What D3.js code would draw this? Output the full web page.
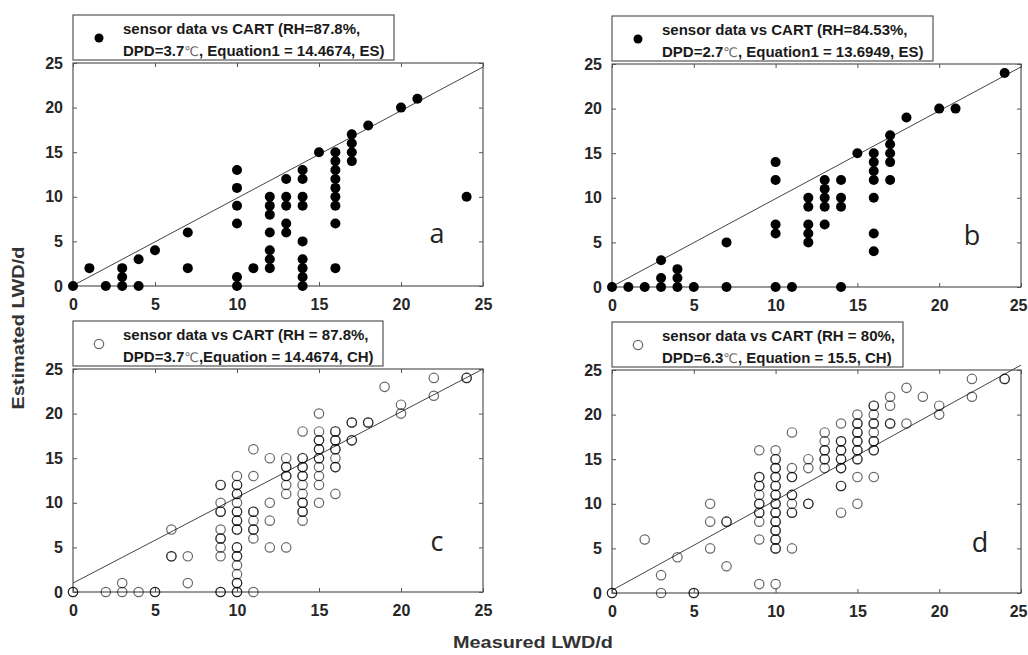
<!DOCTYPE html>
<html><head><meta charset="utf-8">
<script src="https://cdn.jsdelivr.net/npm/d3@7/dist/d3.min.js"></script>
<style>body{margin:0;background:#fff}svg{display:block}</style>
</head><body>
<svg id="chart" width="1028" height="655"></svg>
<script>
// ---------- data ----------
const xTicks = [0, 5, 10, 15, 20, 25];
const yTicks = [0, 5, 10, 15, 20, 25];

const aX = [0,1,2,3,3,3,4,4,5,7,7,10,10,10,10,10,10,11,12,12,12,12,12,12,12,13,13,13,13,13,14,14,14,14,14,14,14,14,14,15,16,16,16,16,16,16,16,16,16,17,17,17,17,18,20,21,24];
const aY = [0,2,0,0,1,2,3,0,4,6,2,13,11,9,7,1,0,2,10,9,8,6,4,3,2,12,10,9,7,6,13,12,10,9,5,3,2,1,0,15,15,14,13,12,11,10,9,7,2,17,16,15,14,18,20,21,10];

const bX = [0,1,2,3,3,3,4,4,4,5,7,7,10,10,10,10,10,11,12,12,12,12,12,13,13,13,13,13,14,14,14,14,15,16,16,16,16,16,16,16,17,17,17,17,17,18,20,21,24];
const bY = [0,0,0,0,1,3,0,1,2,0,0,5,14,12,7,6,0,0,10,9,7,6,5,12,11,10,9,7,12,10,9,0,15,15,14,13,12,10,6,4,17,16,15,14,12,19,20,20,24];

const cX = [0,2,3,3,4,5,6,6,7,7,9,9,9,9,9,9,9,9,10,10,10,10,10,10,10,10,10,10,10,10,10,11,11,11,11,11,11,11,12,12,12,12,13,13,13,13,13,13,14,14,14,14,14,14,14,14,14,15,15,15,15,15,15,15,15,15,16,16,16,16,16,16,17,17,18,19,20,20,22,22,24];
const cY = [0,0,0,1,0,0,7,4,4,1,12,10,9,7,6,5,4,0,13,12,11,10,9,8,7,5,4,3,2,1,0,16,13,9,8,7,6,0,15,10,8,5,15,14,13,12,11,5,18,15,14,13,12,11,10,9,8,20,18,17,16,15,14,13,12,10,18,17,16,15,14,11,19,17,19,23,21,20,24,22,24];
const cN = [2,1,1,1,1,2,1,2,1,1,2,1,2,1,2,1,1,2,1,2,2,1,2,2,2,2,2,1,1,2,2,1,1,2,1,2,1,1,1,1,1,1,1,2,2,1,1,1,1,2,2,2,1,1,2,2,1,1,1,2,2,2,1,1,1,1,2,2,2,1,2,1,2,2,2,1,1,1,1,1,2];

const dX = [0,2,3,3,4,5,6,6,6,7,7,9,9,9,9,9,9,9,9,9,10,10,10,10,10,10,10,10,10,10,10,10,10,11,11,11,11,11,11,11,12,12,12,13,13,13,13,13,14,14,14,14,14,14,14,15,15,15,15,15,15,15,15,16,16,16,16,16,16,16,17,17,17,18,18,19,20,20,22,22,24];
const dY = [0,6,2,0,4,0,10,8,5,8,3,16,13,12,11,10,9,8,6,1,16,15,14,13,12,11,10,9,8,7,6,5,1,18,14,13,11,10,9,5,15,14,10,18,17,16,15,14,19,17,16,15,14,12,9,20,19,18,17,16,15,13,10,21,20,19,18,17,16,13,22,21,19,23,19,22,21,20,24,22,24];
const dN = [2,1,1,1,1,2,1,1,1,2,1,1,2,2,1,2,2,1,1,1,1,2,2,2,2,2,2,2,2,2,2,2,1,1,1,2,2,1,2,1,1,1,2,1,1,2,2,1,1,2,2,2,2,2,1,1,2,2,2,2,2,1,1,2,1,2,1,2,2,1,1,1,2,1,1,1,1,1,1,1,2];

// fitted lines [slope, intercept]
const fitA = [0.98, 0.05];
const fitB = [0.985, 0.05];
const fitC = [0.96, 1.0];
const fitD = [1.01, 0.3];

const legendA = ["sensor data vs CART (RH=87.8%,", "DPD=3.7\u2103, Equation1 = 14.4674, ES)"];
const legendB = ["sensor data vs CART (RH=84.53%,", "DPD=2.7\u2103, Equation1 = 13.6949, ES)"];
const legendC = ["sensor data vs CART (RH = 87.8%,", "DPD=3.7\u2103,Equation = 14.4674, CH)"];
const legendD = ["sensor data vs CART (RH = 80%,", "DPD=6.3\u2103, Equation = 15.5, CH)"];

const xTitle = "Measured LWD/d";
const yTitle = "Estimated LWD/d";

// ---------- layout ----------
const W = 1028;
const panels = [
  {letter:"a", xs:aX, ys:aY, ns:null, fit:fitA, legend:legendA, filled:true,
   left:73, right:483, top:63, bottom:286, legW:321, letterPos:[22.2,4.8]},
  {letter:"b", xs:bX, ys:bY, ns:null, fit:fitB, legend:legendB, filled:true,
   left:612, right:1021, top:64, bottom:287, legW:321, letterPos:[22.0,4.7]},
  {letter:"c", xs:cX, ys:cY, ns:cN, fit:fitC, legend:legendC, filled:false,
   left:73, right:483, top:369, bottom:592, legW:310, letterPos:[22.2,4.6]},
  {letter:"d", xs:dX, ys:dY, ns:dN, fit:fitD, legend:legendD, filled:false,
   left:612, right:1021, top:370, bottom:593, legW:291, letterPos:[22.5,4.6]}
];

const svg = d3.select("#chart");
const FONT = "'Liberation Sans', Arial, Helvetica, sans-serif";
const AXC = "#555";

panels.forEach(p => {
  const x = d3.scaleLinear().domain([0,25]).range([p.left, p.right]);
  const y = d3.scaleLinear().domain([0,25]).range([p.bottom, p.top]);
  const g = svg.append("g");

  g.append("rect").attr("x", p.left).attr("y", p.top)
    .attr("width", p.right - p.left).attr("height", p.bottom - p.top)
    .attr("fill", "none").attr("stroke", AXC).attr("stroke-width", 1.2);

  const xb = d3.axisBottom(x).tickValues(xTicks).tickSize(-4).tickPadding(10).tickFormat(d3.format("d"));
  const gx = g.append("g").attr("transform", `translate(0,${p.bottom})`).call(xb);
  const xt = d3.axisTop(x).tickValues(xTicks).tickSize(-4).tickFormat("");
  const gxt = g.append("g").attr("transform", `translate(0,${p.top})`).call(xt);
  const yl = d3.axisLeft(y).tickValues(yTicks).tickSize(-4).tickPadding(10).tickFormat(d3.format("d"));
  const gy = g.append("g").attr("transform", `translate(${p.left},0)`).call(yl);
  const yr = d3.axisRight(y).tickValues(yTicks).tickSize(-4).tickFormat("");
  const gyr = g.append("g").attr("transform", `translate(${p.right},0)`).call(yr);
  [gx, gxt, gy, gyr].forEach(a => {
    a.select(".domain").remove();
    a.selectAll(".tick line").attr("stroke", AXC);
    a.selectAll("text").attr("font-family", FONT).attr("font-size", 16)
      .attr("font-weight", "bold").attr("fill", "#262626");
  });
  gx.selectAll("text").attr("dy", "0.75em").attr("y", 12);
  // keep the last label inside the page if it would cross the right edge
  gx.selectAll(".tick").each(function(d) {
    if (x(d) + 10 > W) {
      d3.select(this).select("text").attr("text-anchor", "end").attr("x", W - 1 - x(d));
    }
  });

  g.append("line")
    .attr("x1", x(0)).attr("y1", y(p.fit[1]))
    .attr("x2", x(25)).attr("y2", y(p.fit[0]*25 + p.fit[1]))
    .attr("stroke", "#444").attr("stroke-width", 1);

  const pts = [];
  p.xs.forEach((v, i) => {
    const n = p.ns ? p.ns[i] : 1;
    for (let k = 0; k < n; k++) pts.push({x: v, y: p.ys[i]});
  });
  if (p.filled) {
    g.selectAll("circle.pt").data(pts).join("circle").attr("class","pt")
      .attr("cx", d => x(d.x)).attr("cy", d => y(d.y)).attr("r", 5)
      .attr("fill", "#000");
  } else {
    g.selectAll("circle.pt").data(pts).join("circle").attr("class","pt")
      .attr("cx", d => x(d.x)).attr("cy", d => y(d.y)).attr("r", 4.7)
      .attr("fill", "none").attr("stroke", "#000").attr("stroke-opacity", 0.6)
      .attr("stroke-width", 1.2);
  }

  g.append("text").attr("x", x(p.letterPos[0])).attr("y", y(p.letterPos[1]))
    .attr("text-anchor", "middle").attr("font-family", "'Open Sans', sans-serif")
    .attr("font-size", 27).attr("fill", "#222").text(p.letter);

  const lx = p.left, ly = p.top - 48;
  const lg = g.append("g").attr("transform", `translate(${lx},${ly})`);
  lg.append("rect").attr("x", 0).attr("y", 0).attr("width", p.legW).attr("height", 45)
    .attr("fill", "#fff").attr("stroke", AXC).attr("stroke-width", 1.2);
  if (p.filled) {
    lg.append("circle").attr("cx", 26).attr("cy", 23).attr("r", 4.5).attr("fill", "#000");
  } else {
    lg.append("circle").attr("cx", 26).attr("cy", 23).attr("r", 4.7).attr("fill", "none")
      .attr("stroke", "#000").attr("stroke-opacity", 0.6).attr("stroke-width", 1.2);
  }
  p.legend.forEach((t, i) => {
    const txt = lg.append("text").attr("x", 50).attr("y", 19 + i*21.5)
      .attr("font-family", FONT).attr("font-size", 15).attr("font-weight", "bold")
      .attr("fill", "#1a1a1a");
    t.split(/(\u2103)/).forEach(part => {
      if (!part) return;
      const ts = txt.append("tspan").text(part);
      if (part === "\u2103") ts.attr("font-weight", "normal").attr("fill", "#666")
        .attr("font-family", "'DejaVu Sans', sans-serif").attr("font-size", 13);
    });
  });
});

svg.append("text").attr("x", 533).attr("y", 648).attr("text-anchor", "middle")
  .attr("font-family", FONT).attr("font-size", 17).attr("font-weight", "bold")
  .attr("fill", "#333").attr("textLength", 160).attr("lengthAdjust", "spacingAndGlyphs").text(xTitle);
svg.append("text").attr("transform", "translate(24,328) rotate(-90)").attr("text-anchor", "middle")
  .attr("font-family", FONT).attr("font-size", 17).attr("font-weight", "bold")
  .attr("fill", "#333").attr("textLength", 163).attr("lengthAdjust", "spacingAndGlyphs").text(yTitle);
</script>
</body></html>
